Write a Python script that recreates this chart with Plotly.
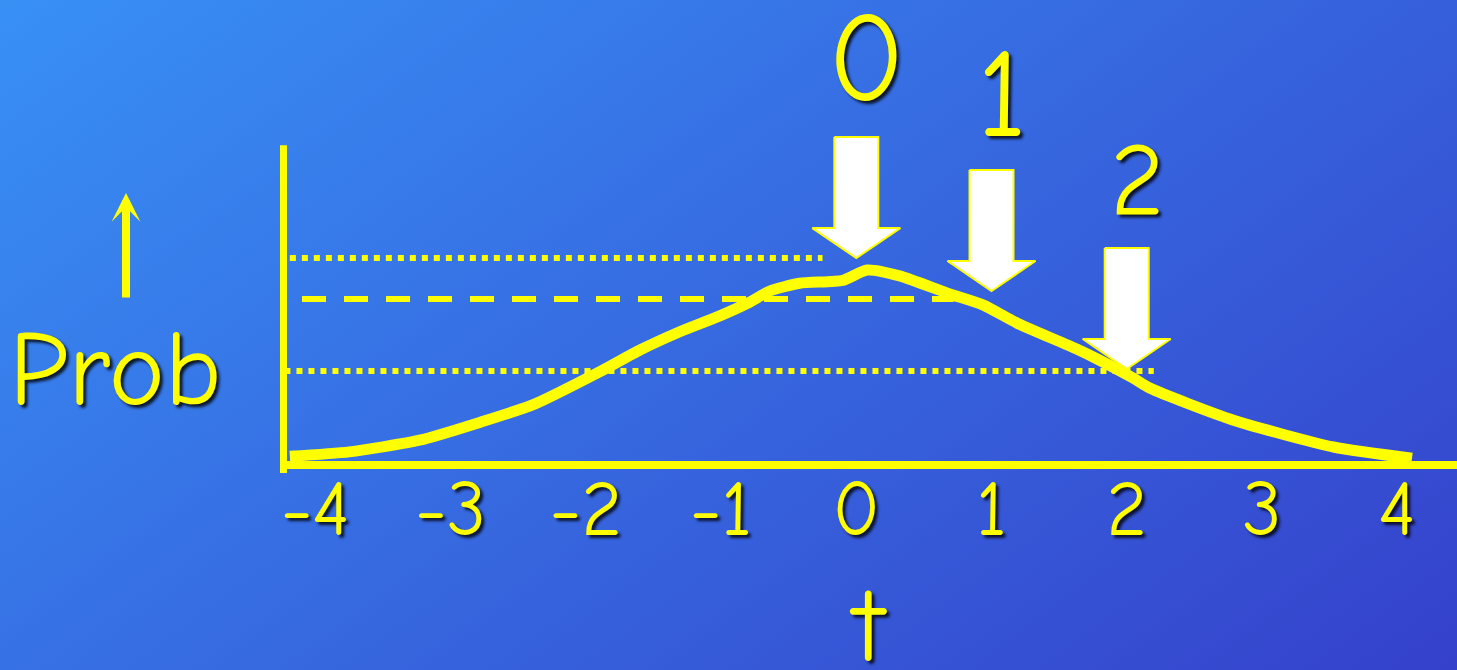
import base64
import plotly.graph_objects as go

W, H = 1457, 670

# ---- data ----
curve_x = [-4.19, -3.75, -3.23, -2.78, -2.38, -1.90, -1.60, -1.31, -1.01, -0.79, -0.64,
           -0.42, -0.10, 0.08, 0.32, 0.69, 0.94, 1.19, 1.63, 1.80, 2.05, 2.17, 2.79, 3.53, 4.11]
curve_y = [0.018, 0.027, 0.051, 0.088, 0.125, 0.191, 0.236, 0.273, 0.306, 0.334, 0.357,
           0.373, 0.379, 0.400, 0.388, 0.351, 0.328, 0.291, 0.238, 0.215, 0.178, 0.158, 0.092, 0.037, 0.014]

tick_vals = [-4, -3, -2, -1, 0, 1, 2, 3, 4]
tick_text = ["-4", "-3", "-2", "-1", "0", "1", "2", "3", "4"]

level_names = ["top dotted", "dashed", "bottom dotted"]
level_y = [0.4246, 0.3405, 0.193]
level_x_start = [-4.19, -4.10, -4.23]
level_x_end = [-0.25, 0.72, 2.20]
level_dash = ["dot", "24px,18px", "dot"]

arrow_labels = ["0", "1", "2"]
arrow_x = [0, 1, 2]
arrow_tip_y = [0.4246, 0.357, 0.197]
label_y = [0.831, 0.759, 0.585]

# ---- geometry / styling ----
X_PER_PX = 1 / 135.2
Y_PER_PX = 1 / 487.5
x_range = [-6.334, 4.443]
y_range = [-0.4205, 0.954]
origin_x = -4.237
y_axis_top = 0.656

YELLOW = "#FFFF00"
FONT = "'Comic Sans MS', 'Comic Neue', Lato, sans-serif"
SHADOW = "3px 3px 3px rgba(0,0,0,0.8)"

fig = go.Figure()

# arrows (white with yellow outline)
shaft_hw = 22 * X_PER_PX
head_hw = 44 * X_PER_PX
head_h = 30 * Y_PER_PX
total_h = 121 * Y_PER_PX
for xc, ty in zip(arrow_x, arrow_tip_y):
    px = [xc - shaft_hw, xc + shaft_hw, xc + shaft_hw, xc + head_hw, xc,
          xc - head_hw, xc - shaft_hw, xc - shaft_hw]
    py = [ty + total_h, ty + total_h, ty + head_h, ty + head_h, ty,
          ty + head_h, ty + head_h, ty + total_h]
    fig.add_trace(go.Scatter(x=px, y=py, mode="lines", fill="toself",
                             fillcolor="white", line=dict(color=YELLOW, width=2),
                             hoverinfo="skip", showlegend=False))

# horizontal reference lines
for name, yv, x0, x1, d in zip(level_names, level_y, level_x_start, level_x_end, level_dash):
    fig.add_trace(go.Scatter(x=[x0, x1], y=[yv, yv], mode="lines", name=name,
                             line=dict(color=YELLOW, width=6, dash=d),
                             showlegend=False))

# the curve
fig.add_trace(go.Scatter(x=curve_x, y=curve_y, mode="lines",
                         line=dict(color=YELLOW, width=11, shape="spline", smoothing=0.6),
                         showlegend=False))

# axis lines
fig.add_shape(type="line", xref="x", yref="y", x0=origin_x, x1=x_range[1],
              y0=0, y1=0, line=dict(color=YELLOW, width=8))
fig.add_shape(type="line", xref="x", yref="y", x0=origin_x, x1=origin_x,
              y0=-8 * Y_PER_PX, y1=y_axis_top, line=dict(color=YELLOW, width=7))

# arrow labels
label_sizes = [126, 126, 104]
for lab, xc, ly, fs in zip(arrow_labels, arrow_x, label_y, label_sizes):
    fig.add_annotation(x=xc, y=ly, xref="x", yref="y", text=lab, showarrow=False,
                       xshift=10, xanchor="center", yanchor="middle",
                       font=dict(family=FONT, size=fs, color=YELLOW, shadow=SHADOW))

# Prob label and up arrow
fig.add_annotation(x=115 / W, y=1 - 370 / H, xref="paper", yref="paper", text="Prob",
                   showarrow=False, xanchor="center", yanchor="middle",
                   font=dict(family=FONT, size=106, color=YELLOW, shadow=SHADOW))
fig.add_annotation(x=126 / W, y=1 - 193 / H, xref="paper", yref="paper", text="",
                   showarrow=True, ax=0, ay=106, arrowcolor=YELLOW, arrowwidth=8,
                   arrowhead=3, arrowsize=0.6)
# axis title t
fig.add_annotation(x=868 / W, y=1 - 626 / H, xref="paper", yref="paper", text="t",
                   showarrow=False, xanchor="center", yanchor="middle",
                   font=dict(family=FONT, size=106, color=YELLOW, shadow=SHADOW))

svg = (f'<svg xmlns="http://www.w3.org/2000/svg" width="{W}" height="{H}" '
       f'viewBox="0 0 {W} {H}" preserveAspectRatio="none"><defs>'
       '<linearGradient id="g" gradientUnits="userSpaceOnUse" x1="0" y1="0" x2="832" y2="1130">'
       '<stop offset="0" stop-color="#3890F5"/><stop offset="1" stop-color="#3541CB"/>'
       '</linearGradient></defs>'
       f'<rect width="{W}" height="{H}" fill="url(#g)"/></svg>')
bg = "data:image/svg+xml;base64," + base64.b64encode(svg.encode()).decode()

fig.update_layout(
    width=W, height=H,
    margin=dict(l=0, r=0, t=0, b=0),
    paper_bgcolor="#3568DD", plot_bgcolor="rgba(0,0,0,0)",
    images=[dict(source=bg, xref="paper", yref="paper", x=0, y=1, sizex=1, sizey=1,
                 xanchor="left", yanchor="top", sizing="stretch", layer="below")],
    xaxis=dict(domain=[0, 1], range=x_range, anchor="free", position=220 / H,
               showline=False, showgrid=False, zeroline=False, ticks="",
               tickvals=tick_vals, ticktext=tick_text, ticklabelstandoff=6,
               tickfont=dict(family=FONT, size=78, color=YELLOW, shadow=SHADOW),
               automargin=False, fixedrange=True),
    yaxis=dict(domain=[0, 1], range=y_range, visible=False, fixedrange=True),
    showlegend=False,
    hovermode=False,
)

fig.write_html("out.html", config={"displayModeBar": False},
               post_script="document.body.style.margin='0';document.body.style.overflow='hidden';")
